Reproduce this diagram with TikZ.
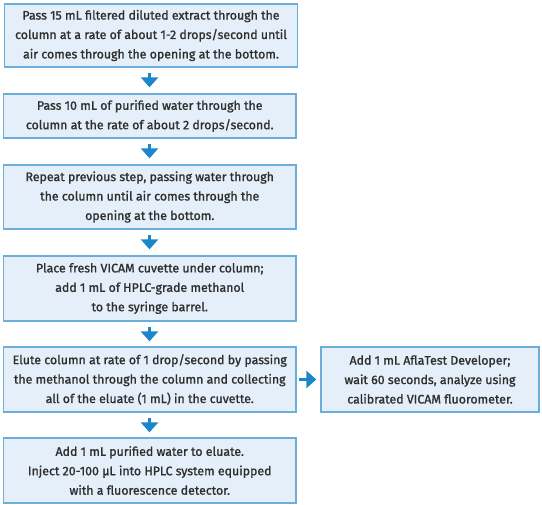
\documentclass[tikz,border=0pt]{standalone}
\usepackage{fontspec}
\setmainfont{Fira Sans}[BoldFont={Fira Sans}, BoldFeatures={FakeBold=1.2}]
\usetikzlibrary{arrows.meta}
\definecolor{boxfill}{HTML}{E4EFF9}
\definecolor{boxline}{HTML}{6AAED9}
\definecolor{arrowblue}{HTML}{1B87C9}
\definecolor{txt}{HTML}{2E2E2E}
\tikzset{
  stepbox/.style={draw=boxline, fill=boxfill, line width=1.3bp, inner sep=0pt,
    text=txt, align=center, font=\fontsize{12.4}{19.5}\selectfont\bfseries},
  flowarrow/.style={draw=arrowblue, line width=3bp, -{Triangle[width=17bp,length=10bp]}}
}
\begin{document}
\begin{tikzpicture}[x=1bp,y=-1bp]
\useasboundingbox (0,0) rectangle (542,505);
\node[stepbox, minimum width=293bp, minimum height=63bp] (b1) at (151,35.5)
  {Pass 15 mL filtered diluted extract through the\\column at a rate of about 1-2 drops/second until\\air comes through the opening at the bottom.};
\node[stepbox, minimum width=292.5bp, minimum height=44bp] (b2) at (149.75,116)
  {Pass 10 mL of purified water through the\\column at the rate of about 2 drops/second.};
\node[stepbox, minimum width=292.5bp, minimum height=64bp] (b3) at (149.75,197)
  {Repeat previous step, passing water through\\the column until air comes through the\\opening at the bottom.};
\node[stepbox, minimum width=292.5bp, minimum height=65bp] (b4) at (149.75,288.5)
  {Place fresh VICAM cuvette under column;\\add 1 mL of HPLC-grade methanol\\to the syringe barrel.};
\node[stepbox, minimum width=292.5bp, minimum height=65bp] (b5) at (149.75,379.5)
  {Elute column at rate of 1 drop/second by passing\\the methanol through the column and collecting\\all of the eluate (1 mL) in the cuvette.};
\node[stepbox, minimum width=292.5bp, minimum height=65bp] (b6) at (149.75,470.5)
  {Add 1 mL purified water to eluate.\\Inject 20-100 µL into HPLC system equipped\\with a fluorescence detector.};
\node[stepbox, minimum width=218bp, minimum height=65bp] (r) at (430,379.5)
  {Add 1 mL AflaTest Developer;\\wait 60 seconds, analyze using\\calibrated VICAM fluorometer.};
\draw[flowarrow] ([yshift=-5bp]b1.south -| 149.5,0) -- ([yshift=6bp]b2.north -| 149.5,0);
\draw[flowarrow] ([yshift=-5bp]b2.south -| 149.5,0) -- ([yshift=6bp]b3.north -| 149.5,0);
\draw[flowarrow] ([yshift=-5bp]b3.south -| 149.5,0) -- ([yshift=6bp]b4.north -| 149.5,0);
\draw[flowarrow] ([yshift=-5bp]b4.south -| 149.5,0) -- ([yshift=5bp]b5.north -| 149.5,0);
\draw[flowarrow] ([yshift=-5bp]b5.south -| 149.5,0) -- ([yshift=5bp]b6.north -| 149.5,0);
\draw[flowarrow] ([xshift=2bp]b5.east) -- ([xshift=-4bp]r.west);
\end{tikzpicture}
\end{document}
